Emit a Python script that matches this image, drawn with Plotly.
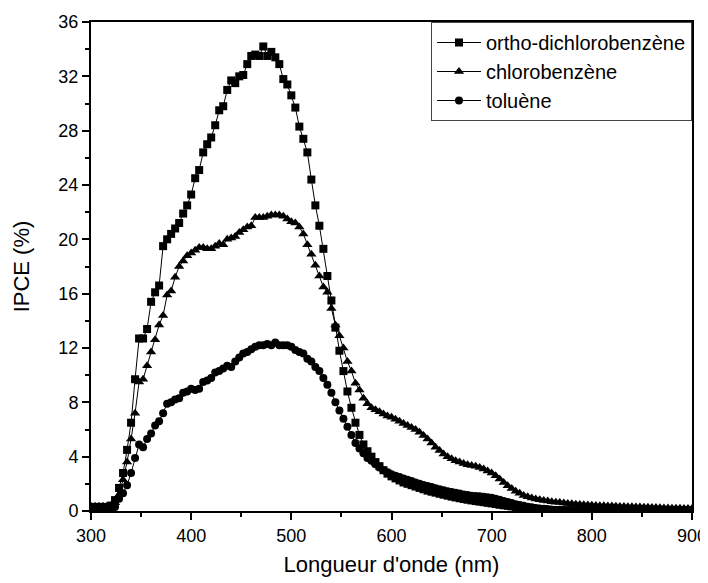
import plotly.graph_objects as go

# wavelength grid (nm), one point every 4 nm
wavelength = list(range(300, 901, 4))

ortho_dcb = [
    0.3, 0.3, 0.3, 0.3, 0.3, 0.4, 0.8, 1.7, 2.8, 4.5,
    6.5, 9.7, 12.7, 12.7, 13.4, 15.4, 16.1, 16.6, 19.5, 20.0,
    20.4, 20.8, 21.2, 21.9, 22.5, 23.3, 24.5, 25.1, 26.4, 27.0,
    27.5, 28.4, 29.5, 29.8, 31.0, 31.7, 31.5, 32.0, 32.1, 32.9,
    33.5, 33.6, 33.5, 34.2, 33.5, 33.8, 33.4, 32.9, 31.8, 31.4,
    30.6, 29.7, 28.3, 27.4, 26.4, 24.4, 22.5, 21.0, 19.3, 17.3,
    15.5, 13.5, 11.8, 10.3, 8.8, 7.6, 6.5, 5.6, 4.9, 4.4,
    4.0, 3.6, 3.3, 3.0, 2.75, 2.55, 2.4, 2.25, 2.1, 2.0,
    1.9, 1.8, 1.7, 1.6, 1.5, 1.42, 1.35, 1.27, 1.2, 1.13,
    1.06, 1.0, 0.94, 0.88, 0.83, 0.78, 0.73, 0.69, 0.65, 0.6,
    0.56, 0.51, 0.46, 0.42, 0.38, 0.34, 0.3, 0.27, 0.24, 0.21,
    0.18, 0.16, 0.14, 0.12, 0.1, 0.08,
    0.06, 0.05, 0.05, 0.05, 0.05, 0.05, 0.05, 0.05, 0.05, 0.04,
    0.04, 0.04, 0.04, 0.04, 0.04, 0.04, 0.03, 0.03, 0.03, 0.03,
    0.03, 0.03, 0.03, 0.03, 0.03, 0.03, 0.03, 0.03, 0.03, 0.03,
    0.03, 0.03, 0.03, 0.03, 0.03,
]

chlorobenzene = [
    0.35, 0.35, 0.35, 0.35, 0.35, 0.4, 0.6, 1.2, 2.3, 3.6,
    5.3, 7.2, 9.5, 9.7, 10.7, 11.7, 12.6, 13.7, 14.4, 15.9,
    16.2, 17.2, 18.0, 18.4, 18.8, 19.0, 19.2, 19.4, 19.4, 19.3,
    19.3, 19.5, 19.7, 19.6, 20.0, 20.1, 20.2, 20.5, 20.7, 20.9,
    21.0, 21.6, 21.6, 21.6, 21.7, 21.8, 21.8, 21.8, 21.7, 21.5,
    21.3, 21.2, 20.9, 20.4, 19.6, 18.9, 18.1, 17.3, 16.5, 16.1,
    14.9, 13.7, 12.9, 12.0, 11.0, 10.3, 9.4, 8.9, 8.3, 7.9,
    7.6, 7.45, 7.3, 7.15, 7.0, 6.9, 6.75, 6.6, 6.45, 6.3,
    6.15, 6.0, 5.8, 5.55, 5.3, 5.0, 4.7, 4.45, 4.2, 4.0,
    3.85, 3.7, 3.6, 3.5, 3.4, 3.35, 3.3, 3.2, 3.1, 2.95,
    2.8, 2.6, 2.35, 2.1, 1.85, 1.65, 1.45, 1.3, 1.15, 1.05,
    0.95, 0.88, 0.82, 0.77, 0.73, 0.69, 0.65, 0.62, 0.59, 0.56,
    0.53, 0.5, 0.48, 0.46, 0.44, 0.42,
    0.4, 0.39, 0.38, 0.37, 0.36, 0.35, 0.34, 0.33, 0.32, 0.31,
    0.3, 0.29, 0.28, 0.27, 0.26, 0.25, 0.24, 0.23, 0.22, 0.21,
    0.2, 0.2, 0.19, 0.19, 0.18,
]

toluene = [
    0.1, 0.1, 0.1, 0.1, 0.1, 0.15, 0.3, 0.9, 1.3, 1.9,
    2.8, 3.9, 4.9, 4.7, 5.3, 5.7, 6.3, 6.6, 7.2, 7.9,
    8.0, 8.2, 8.3, 8.7, 8.8, 9.0, 8.9, 9.0, 9.5, 9.6,
    9.8, 10.2, 10.3, 10.5, 10.7, 10.6, 11.0, 11.3, 11.6, 11.7,
    11.9, 12.1, 12.2, 12.2, 12.3, 12.2, 12.4, 12.2, 12.2, 12.2,
    12.1, 11.85, 11.7, 11.6, 11.2, 11.0, 10.6, 10.3, 9.8, 9.3,
    8.7, 8.0, 7.4, 6.8, 6.2, 5.6, 5.0, 4.6, 4.25, 3.9,
    3.7, 3.45, 3.2, 3.0, 2.85, 2.7, 2.6, 2.5, 2.4, 2.3,
    2.2, 2.1, 2.0, 1.92, 1.84, 1.76, 1.68, 1.6, 1.53, 1.46,
    1.4, 1.34, 1.28, 1.22, 1.17, 1.13, 1.1, 1.08, 1.05, 1.02,
    0.98, 0.9, 0.82, 0.74, 0.66, 0.58, 0.5, 0.44, 0.38, 0.32,
    0.27, 0.23, 0.19, 0.16, 0.13, 0.1,
    0.08, 0.07, 0.06, 0.06, 0.05, 0.05, 0.05, 0.05, 0.05, 0.05,
    0.05, 0.05, 0.05, 0.05, 0.05, 0.05, 0.05, 0.05, 0.05, 0.05,
    0.05, 0.05, 0.05, 0.05, 0.05, 0.05, 0.05, 0.05, 0.05, 0.05,
    0.05, 0.05, 0.05, 0.05, 0.05,
]

series = [
    ("ortho-dichlorobenzène", ortho_dcb, "square", 8),
    ("chlorobenzène", chlorobenzene, "triangle-up", 9),
    ("toluène", toluene, "circle", 8),
]

fig = go.Figure()
for name, values, symbol, size in series:
    fig.add_trace(
        go.Scatter(
            x=wavelength,
            y=values,
            name=name,
            mode="lines+markers",
            line=dict(color="black", width=1),
            marker=dict(symbol=symbol, size=size, color="black"),
        )
    )

axis_style = dict(
    showline=True,
    linecolor="black",
    linewidth=2,
    mirror=True,
    ticks="outside",
    ticklen=7,
    tickwidth=1.5,
    tickcolor="black",
    showgrid=False,
    zeroline=False,
    automargin=False,
    tickfont=dict(size=18, color="black"),
    minor=dict(ticks="outside", ticklen=4, tickwidth=1.5, tickcolor="black"),
)

fig.update_xaxes(
    range=[300, 900],
    dtick=100,
    minor_dtick=50,
    title=dict(text="Longueur d'onde (nm)", font=dict(size=22, color="black"), standoff=12),
    **axis_style,
)
fig.update_yaxes(
    range=[0, 36],
    dtick=4,
    minor_dtick=2,
    title=dict(text="IPCE (%)", font=dict(size=22, color="black"), standoff=23),
    **axis_style,
)

# the page body adds an 8px offset, so the figure is 8px smaller than the window
fig.update_layout(
    width=700,
    height=575,
    margin=dict(l=83, r=16, t=14, b=72),
    paper_bgcolor="white",
    plot_bgcolor="white",
    font=dict(family="Liberation Sans, Arial, sans-serif", color="black"),
    legend=dict(
        x=1,
        y=1,
        xanchor="right",
        yanchor="top",
        bordercolor="#444",
        borderwidth=1,
        bgcolor="white",
        font=dict(size=20),
        itemwidth=44,
        tracegroupgap=0,
    ),
    showlegend=True,
)

fig.write_html("out.html")
